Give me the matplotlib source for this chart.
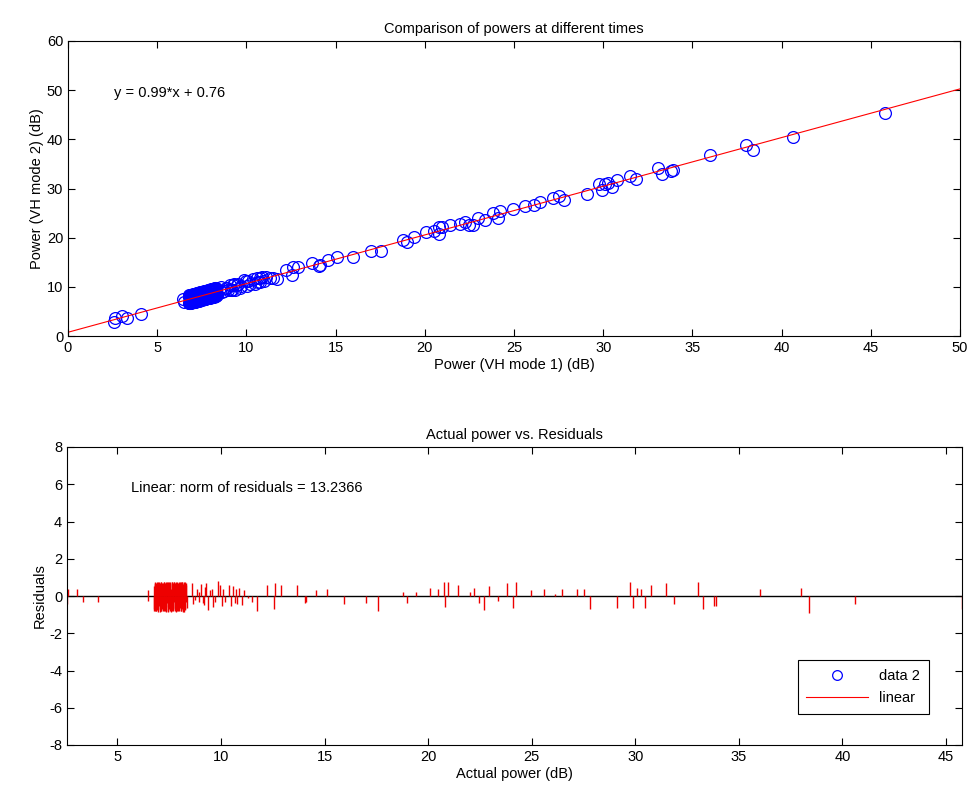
import numpy as np
import matplotlib
matplotlib.use("Agg")
import matplotlib.pyplot as plt
from matplotlib.lines import Line2D

plt.rcParams['font.family'] = ['Liberation Sans', 'DejaVu Sans']
plt.rcParams['axes.unicode_minus'] = False

# Fit coefficients shown on the chart
slope = 0.99
intercept = 0.76
norm_resid = 13.2366

# Actual power (VH mode 1) values
power_x = [
    2.57, 2.62, 3.05, 3.32, 4.07, 6.46, 6.50,
    # dense cluster
    6.78, 6.79, 6.81, 6.83, 6.84, 6.86, 6.88, 6.89, 6.91, 6.94, 6.95, 6.97,
    6.99, 7.01, 7.02, 7.05, 7.06, 7.08, 7.11, 7.12, 7.14, 7.16, 7.18, 7.19,
    7.22, 7.23, 7.25, 7.27, 7.29, 7.31, 7.33, 7.34, 7.37, 7.38, 7.40, 7.43,
    7.44, 7.46, 7.48, 7.50, 7.52, 7.54, 7.55, 7.58, 7.59, 7.61, 7.63, 7.65,
    7.67, 7.69, 7.71, 7.72, 7.75, 7.76, 7.78, 7.80, 7.82, 7.84, 7.86, 7.87,
    7.90, 7.91, 7.93, 7.95, 7.97, 7.99, 8.01, 8.03, 8.04, 8.07, 8.08, 8.10,
    8.12, 8.14, 8.16, 8.18, 8.20, 8.21, 8.24, 8.26, 8.28, 8.30, 8.32, 8.34,
    6.775, 6.805, 6.825, 6.855, 6.875, 6.905, 6.925, 6.955, 6.985, 7.015,
    7.035, 7.065, 7.095, 7.125, 7.155, 7.175, 7.205, 7.235, 7.265, 7.285,
    7.315, 7.345, 7.365, 7.395, 7.425, 7.455, 7.475, 7.505, 7.535, 7.565,
    7.595, 7.625, 7.655, 7.685, 7.705, 7.735, 7.765, 7.795, 7.825, 7.855,
    7.885, 7.915, 7.945, 7.965, 7.995, 8.025, 8.055, 8.085, 8.115, 8.135,
    8.165, 8.195, 8.225, 8.255, 8.285, 8.315,
    # sparser part
    8.58, 8.66, 8.74, 8.83, 8.93, 8.95, 9.06, 9.12, 9.19, 9.25, 9.30, 9.38,
    9.46, 9.55, 9.63, 9.71, 9.87, 9.95,
    10.03, 10.11, 10.19, 10.38, 10.51, 10.59, 10.66, 10.75, 10.77, 10.87,
    11.00, 11.11,
    11.32, 11.48, 11.72, 12.20, 12.56, 12.60, 12.90, 13.68, 14.05, 14.10,
    14.60, 15.10, 15.95, 16.98, 17.57,
    18.77, 19.00, 19.40, 20.09, 20.50, 20.78, 20.80, 20.95, 21.43, 22.00,
    22.23, 22.46, 22.72, 22.96, 23.37, 23.80, 24.09, 24.23, 24.96, 25.60,
    26.13, 26.45, 27.18, 27.53, 27.82, 29.11, 29.75, 29.91, 30.08, 30.27,
    30.48, 30.77, 31.48, 31.85, 33.05, 33.29, 33.78, 33.90, 36.00, 38.00,
    38.37, 40.62, 45.77,
]

# Residuals
residuals = [
    -0.45, 0.40, 0.35, -0.30, -0.32, 0.30, -0.25,
    0.55, -0.70, 0.75, -0.40, 0.62, -0.80, 0.35, -0.60, 0.77, -0.30, 0.50, -0.84,
    0.70, -0.55, 0.25, -0.75, 0.66, -0.45, 0.77, -0.82, 0.40, -0.65, 0.72, -0.30,
    0.60, -0.78, 0.76, -0.50, 0.30, -0.70, 0.68, -0.84, 0.55, -0.35, 0.77, -0.60,
    0.45, -0.80, 0.70, -0.25, 0.62, -0.72, 0.77, -0.50, 0.35, -0.84, 0.74, -0.40,
    0.58, -0.76, 0.66, -0.30, 0.77, -0.62, 0.45, -0.80, 0.72, -0.55, 0.30, -0.70,
    0.76, -0.45, 0.60, -0.82, 0.68, -0.35, 0.77, -0.66, 0.52, -0.78, 0.40, -0.60,
    0.74, -0.50, 0.65, -0.84, 0.70, -0.40, 0.77, -0.72, 0.55, -0.30, 0.60, -0.65,
    -0.80, 0.72, -0.78, 0.70, -0.82, 0.66, -0.76, 0.74, -0.70, 0.77,
    -0.84, 0.70, -0.80, 0.76, -0.72, 0.68, -0.82, 0.77, -0.75, 0.72,
    -0.80, 0.74, -0.78, 0.70, -0.84, 0.76, -0.70, 0.77, -0.80, 0.72,
    -0.76, 0.74, -0.82, 0.70, -0.78, 0.77, -0.72, 0.68, -0.84, 0.75,
    -0.80, 0.72, -0.76, 0.77, -0.82, 0.70, -0.78, 0.74, -0.72, 0.76,
    -0.80, 0.70, -0.84, 0.77, -0.75, 0.72,
    0.70, -0.45, -0.20, 0.35, 0.20, -0.30, 0.65, -0.40, -0.50, 0.50, 0.70, -0.75,
    0.30, 0.40, -0.60, -0.30, 0.80, 0.60,
    -0.55, 0.35, -0.30, 0.60, -0.55, 0.55, -0.35, 0.40, -0.45, 0.45,
    -0.50, 0.30,
    -0.10, -0.30, -0.80, 0.60, -0.70, 0.70, 0.60, 0.60, -0.35, -0.30,
    0.30, 0.40, -0.45, -0.35, -0.80,
    0.20, -0.35, 0.20, 0.45, 0.35, 0.77, -0.60, 0.77, 0.60, 0.23,
    0.45, -0.35, -0.77, 0.55, -0.27, 0.70, -0.62, 0.77, 0.30, 0.35,
    0.10, 0.35, 0.35, 0.40, -0.72, -0.62, 0.77, -0.62, 0.45, 0.35,
    -0.62, 0.60, 0.70, -0.45, 0.77, -0.72, -0.55, -0.55, 0.35, 0.45,
    -0.90, -0.45, -0.70,
]

power_x = np.array(power_x)
residuals = np.array(residuals)
power_y = slope * power_x + intercept + residuals

# Axis settings
top_xticks = [0, 5, 10, 15, 20, 25, 30, 35, 40, 45, 50]
top_yticks = [0, 10, 20, 30, 40, 50, 60]
bot_xticks = [5, 10, 15, 20, 25, 30, 35, 40, 45]
bot_yticks = [-8, -6, -4, -2, 0, 2, 4, 6, 8]

fs = 10.5
fig = plt.figure(figsize=(9.74, 8.01), dpi=100)
fig.patch.set_facecolor('white')

ax1 = fig.add_axes([68/974, 1-336/801, (960-68)/974, (336-41)/801])
ax2 = fig.add_axes([67/974, 1-745/801, (962-67)/974, (745-447)/801])

# --- top panel
ax1.plot(power_x, power_y, linestyle='none', marker='o', markersize=8.5,
         markerfacecolor='none', markeredgecolor='#0000ff', markeredgewidth=0.9)
fit_x = np.array([0, 50])
ax1.plot(fit_x, slope * fit_x + intercept, color='#ff0000', linewidth=0.8)
ax1.set_xlim(0, 50)
ax1.set_ylim(0, 60)
ax1.set_xticks(top_xticks)
ax1.set_yticks(top_yticks)
ax1.set_title('Comparison of powers at different times', fontsize=fs, pad=6)
ax1.set_xlabel('Power (VH mode 1) (dB)', fontsize=fs, labelpad=2)
ax1.set_ylabel('Power (VH mode 2) (dB)', fontsize=fs, labelpad=2)
ax1.text(2.6, 49.4, 'y = %.2f*x + %.2f' % (slope, intercept), fontsize=fs, va='center')

# --- bottom panel
xmin, xmax = power_x.min(), power_x.max()
ax2.axhline(0, color='black', linewidth=1.0, zorder=1)
ax2.vlines(power_x, 0, residuals, color='#ee0000', linewidth=1.0, zorder=2)
ax2.set_xlim(xmin, xmax)
ax2.set_ylim(-8, 8)
ax2.set_xticks(bot_xticks)
ax2.set_yticks(bot_yticks)
ax2.set_title('Actual power vs. Residuals', fontsize=fs, pad=6)
ax2.set_xlabel('Actual power (dB)', fontsize=fs, labelpad=2)
ax2.set_ylabel('Residuals', fontsize=fs, labelpad=2)
ax2.text(5.68, 5.8, 'Linear: norm of residuals = %.4f' % norm_resid, fontsize=fs, va='center')

handles = [
    Line2D([], [], linestyle='none', marker='o', markersize=7,
           markerfacecolor='none', markeredgecolor='#0000ff', markeredgewidth=0.9),
    Line2D([], [], color='#ff0000', linewidth=0.8),
]
leg = ax2.legend(handles, ['data 2', 'linear'], loc='lower right',
                 bbox_to_anchor=(0.963, 0.104), fontsize=fs, frameon=True,
                 fancybox=False, framealpha=1, edgecolor='black',
                 borderpad=0.6, handlelength=4.2, handletextpad=0.8,
                 labelspacing=0.55, borderaxespad=0)
leg.get_frame().set_linewidth(0.8)

for ax in (ax1, ax2):
    ax.tick_params(direction='in', top=True, right=True, length=5,
                   labelsize=fs, width=0.8)
    for s in ax.spines.values():
        s.set_linewidth(0.8)

fig.savefig('out.png', dpi=100, facecolor='white')
